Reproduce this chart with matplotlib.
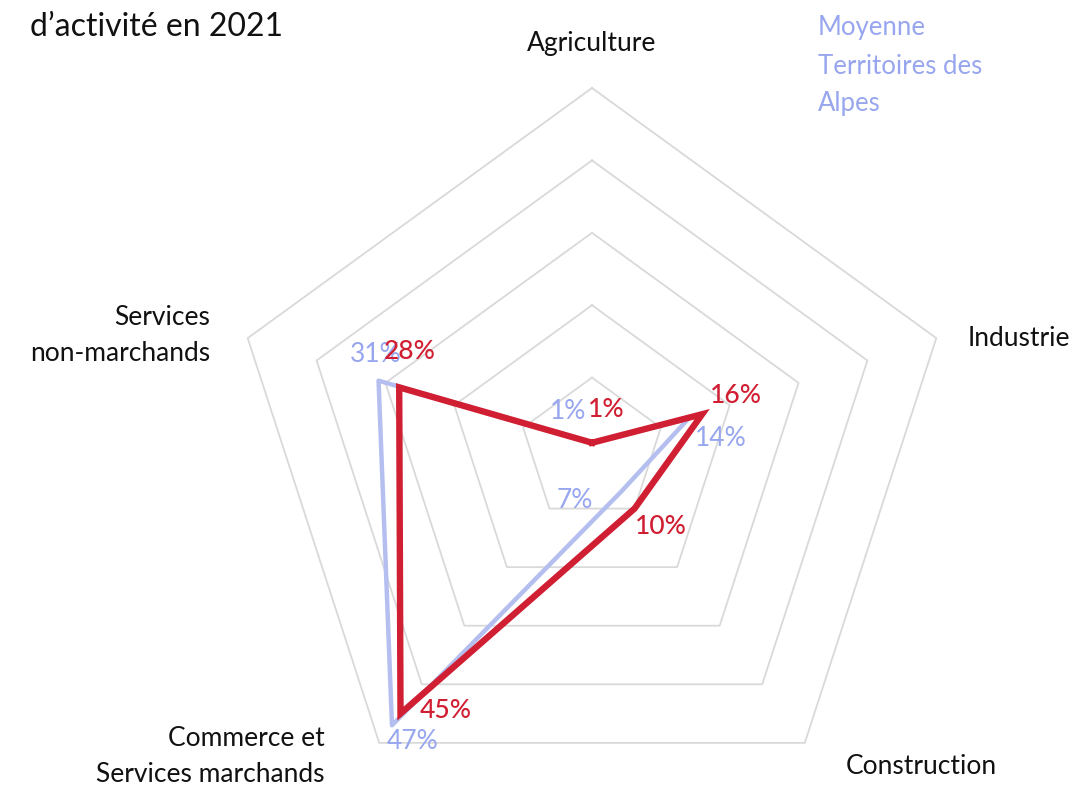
import numpy as np
import matplotlib
matplotlib.use("Agg")
import matplotlib.pyplot as plt

categories = ["Agriculture", "Industrie", "Construction",
              "Commerce et\nServices marchands", "Services\nnon-marchands"]
territoire = [1, 16, 10, 45, 28]
moyenne = [1, 14, 7, 47, 31]
ring_levels = [10, 20, 30, 40, 50]
title_text = "d\u2019activit\u00e9 en 2021"
legend_text = "Moyenne\nTerritoires des\nAlpes"

RED = "#d01f32"
BLUE_LINE = "#b4bff0"
BLUE_TXT = "#97a6ee"
GRID = "#d9d9d9"

plt.rcParams['font.family'] = ['Lato', 'DejaVu Sans']

W, H = 1077, 787
fig = plt.figure(figsize=(W / 100, H / 100), dpi=100)
cx, cy, R = 592, 450, 362
ax = fig.add_axes([(cx - R) / W, (H - cy - R) / H, 2 * R / W, 2 * R / H],
                  projection='polar')
ax.set_theta_offset(np.pi / 2)
ax.set_theta_direction(-1)
ax.set_ylim(0, 50)
ax.axis('off')

n = len(categories)
theta = np.linspace(0, 2 * np.pi, n, endpoint=False)
theta_c = np.append(theta, theta[0])

for lev in ring_levels:
    ax.plot(theta_c, [lev] * (n + 1), color=GRID, lw=1.3, zorder=1, clip_on=False)

ax.plot(theta_c, moyenne + moyenne[:1], color=BLUE_LINE, lw=3.2, zorder=3,
        solid_joinstyle='round', clip_on=False)
ax.plot(theta_c, territoire + territoire[:1], color=RED, lw=4.6, zorder=4,
        solid_joinstyle='miter', clip_on=False)

red_off = [(14, 33), (34, 19), (26, -18), (45, 3), (11, 36)]
blue_off = [(-24, 31), (32, -20), (-47, -9), (21, -16), (-3, 26)]
for i in range(n):
    ax.annotate(f"{moyenne[i]}%", xy=(theta[i], moyenne[i]), xytext=blue_off[i],
                textcoords='offset pixels', ha='center', va='center',
                color=BLUE_TXT, fontsize=19, zorder=5, annotation_clip=False)
    ax.annotate(f"{territoire[i]}%", xy=(theta[i], territoire[i]), xytext=red_off[i],
                textcoords='offset pixels', ha='center', va='center',
                color=RED, fontsize=19, fontweight='medium', zorder=6,
                annotation_clip=False)

def ft(x, y, s, **kw):
    fig.text(x / W, 1 - y / H, s, **kw)

lab_kw = dict(fontsize=19, color="#111111", linespacing=1.55)
ft(592, 44, categories[0], ha='center', va='center', **lab_kw)
ft(968, 338, categories[1], ha='left', va='center', **lab_kw)
ft(846, 767, categories[2], ha='left', va='center', **lab_kw)
ft(325, 757, categories[3], ha='right', va='center', multialignment='right', **lab_kw)
ft(210, 335, categories[4], ha='right', va='center', multialignment='right', **lab_kw)

ft(30, 27, title_text, ha='left', va='center', fontsize=23, color="#111111")
ft(818, 66, legend_text, ha='left', va='center', fontsize=18.5, color=BLUE_TXT,
   linespacing=1.65)

fig.savefig("out.png", dpi=100, facecolor='white')
